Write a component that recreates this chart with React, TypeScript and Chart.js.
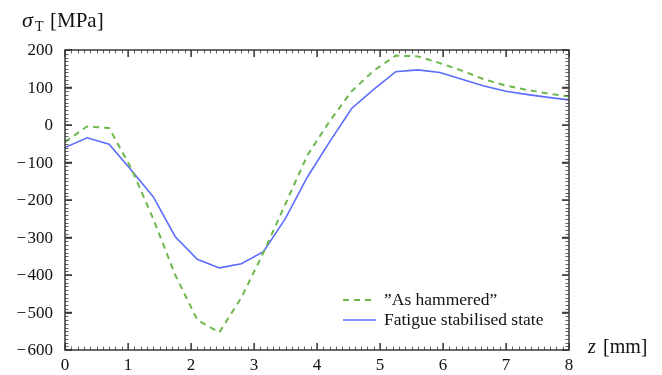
import React, { useEffect, useRef } from "react";
import { Chart, registerables } from "chart.js";

Chart.register(...registerables);

const zValues = [0, 0.35, 0.7, 1.05, 1.4, 1.75, 2.1, 2.45, 2.8, 3.15, 3.5, 3.85, 4.2, 4.55, 4.9, 5.25, 5.6, 5.95, 6.3, 6.65, 7.0, 7.35, 7.7, 8.0];
const asHammered = [-45, -4, -8, -115, -250, -400, -520, -553, -460, -340, -210, -80, 10, 90, 145, 185, 183, 165, 145, 122, 105, 93, 83, 76];
const stabilised = [-60, -34, -51, -120, -191, -298, -358, -381, -370, -338, -249, -138, -45, 44, 95, 142, 147, 140, 122, 104, 90, 81, 73, 67];
const xTicks = [0, 1, 2, 3, 4, 5, 6, 7, 8];
const yTicks = [200, 100, 0, -100, -200, -300, -400, -500, -600];
const seriesLabels = ["\u201DAs hammered\u201D", "Fatigue stabilised state"];

const GREEN = "#6cb84c";
const BLUE = "#5b6cff";
const FONT = '"Liberation Serif", "Times New Roman", serif';

const framePlugin = {
  id: "frameTicks",
  afterDraw(chart: any) {
    const { ctx, chartArea: a, scales } = chart;
    const xs = scales.x;
    const ys = scales.y;
    ctx.save();
    ctx.strokeStyle = "#3a3a3a";
    // minor ticks
    ctx.lineWidth = 0.8;
    ctx.beginPath();
    for (let i = 0; i <= 80; i++) {
      const px = Math.round(xs.getPixelForValue(i / 10)) + 0.5;
      const len = i % 10 === 0 ? 7 : 3.5;
      ctx.moveTo(px, a.bottom);
      ctx.lineTo(px, a.bottom - len);
      ctx.moveTo(px, a.top);
      ctx.lineTo(px, a.top + len);
    }
    for (let i = -60; i <= 20; i++) {
      const py = Math.round(ys.getPixelForValue(i * 10)) + 0.5;
      const len = i % 10 === 0 ? 7 : 3.5;
      ctx.moveTo(a.left, py);
      ctx.lineTo(a.left + len, py);
      ctx.moveTo(a.right, py);
      ctx.lineTo(a.right - len, py);
    }
    ctx.stroke();
    // major ticks thicker
    ctx.lineWidth = 1.3;
    ctx.beginPath();
    xTicks.forEach((v) => {
      const px = xs.getPixelForValue(v);
      ctx.moveTo(px, a.bottom);
      ctx.lineTo(px, a.bottom - 7);
      ctx.moveTo(px, a.top);
      ctx.lineTo(px, a.top + 7);
    });
    yTicks.forEach((v) => {
      const py = ys.getPixelForValue(v);
      ctx.moveTo(a.left, py);
      ctx.lineTo(a.left + 7, py);
      ctx.moveTo(a.right, py);
      ctx.lineTo(a.right - 7, py);
    });
    ctx.stroke();
    // frame
    ctx.lineWidth = 1.5;
    ctx.strokeRect(a.left, a.top, a.right - a.left, a.bottom - a.top);

    // tick labels
    ctx.fillStyle = "#111";
    ctx.font = `17px ${FONT}`;
    ctx.textAlign = "right";
    ctx.textBaseline = "middle";
    yTicks.forEach((v) => {
      const label = v < 0 ? "\u2212\u200A" + Math.abs(v) : String(v);
      ctx.fillText(label, a.left - 12, ys.getPixelForValue(v) + 1);
    });
    ctx.textAlign = "center";
    ctx.textBaseline = "top";
    xTicks.forEach((v) => {
      ctx.fillText(String(v), xs.getPixelForValue(v), a.bottom + 7);
    });

    // axis titles
    ctx.textAlign = "left";
    ctx.textBaseline = "alphabetic";
    ctx.font = `italic 22px ${FONT}`;
    ctx.fillText("\u03C3", 22, 27);
    ctx.font = `14px ${FONT}`;
    ctx.fillText("T", 35, 31);
    ctx.font = `21px ${FONT}`;
    ctx.fillText("[MPa]", 50, 27);

    ctx.font = `italic 20px ${FONT}`;
    ctx.fillText("z", 588, 353);
    ctx.font = `20px ${FONT}`;
    ctx.fillText("[mm]", 603, 353);

    // legend
    const lx0 = 343, lx1 = 376;
    const rows = [300, 320];
    ctx.lineWidth = 2;
    ctx.strokeStyle = GREEN;
    ctx.setLineDash([6, 5]);
    ctx.beginPath();
    ctx.moveTo(lx0, rows[0]);
    ctx.lineTo(lx1, rows[0]);
    ctx.stroke();
    ctx.setLineDash([]);
    ctx.lineWidth = 1.6;
    ctx.strokeStyle = BLUE;
    ctx.beginPath();
    ctx.moveTo(lx0, rows[1]);
    ctx.lineTo(lx1, rows[1]);
    ctx.stroke();
    ctx.fillStyle = "#111";
    ctx.font = `17.5px ${FONT}`;
    ctx.textBaseline = "middle";
    ctx.fillText(seriesLabels[0], 384, rows[0]);
    ctx.fillText(seriesLabels[1], 384, rows[1]);
    ctx.restore();
  },
};

export default function App() {
  const ref = useRef<HTMLCanvasElement | null>(null);
  useEffect(() => {
    if (!ref.current) return;
    const chart = new Chart(ref.current, {
      type: "line",
      data: {
        datasets: [
          {
            label: seriesLabels[0],
            data: zValues.map((z, i) => ({ x: z, y: asHammered[i] })),
            borderColor: GREEN,
            borderWidth: 2,
            borderDash: [6, 5],
            pointRadius: 0,
            tension: 0,
            fill: false,
          },
          {
            label: seriesLabels[1],
            data: zValues.map((z, i) => ({ x: z, y: stabilised[i] })),
            borderColor: BLUE,
            borderWidth: 1.6,
            pointRadius: 0,
            tension: 0,
            fill: false,
          },
        ],
      },
      options: {
        animation: false,
        responsive: false,
        maintainAspectRatio: false,
        layout: { padding: { left: 65, right: 93, top: 50, bottom: 25 } },
        plugins: { legend: { display: false }, tooltip: { enabled: false } },
        scales: {
          x: { type: "linear", min: 0, max: 8, display: false },
          y: { type: "linear", min: -600, max: 200, display: false },
        },
      },
      plugins: [framePlugin],
    });
    return () => chart.destroy();
  }, []);
  return (
    <div style={{ position: "fixed", left: 0, top: 0, width: 662, height: 375, background: "#fff" }}>
      <canvas ref={ref} width={662} height={375} style={{ display: "block" }} />
    </div>
  );
}
